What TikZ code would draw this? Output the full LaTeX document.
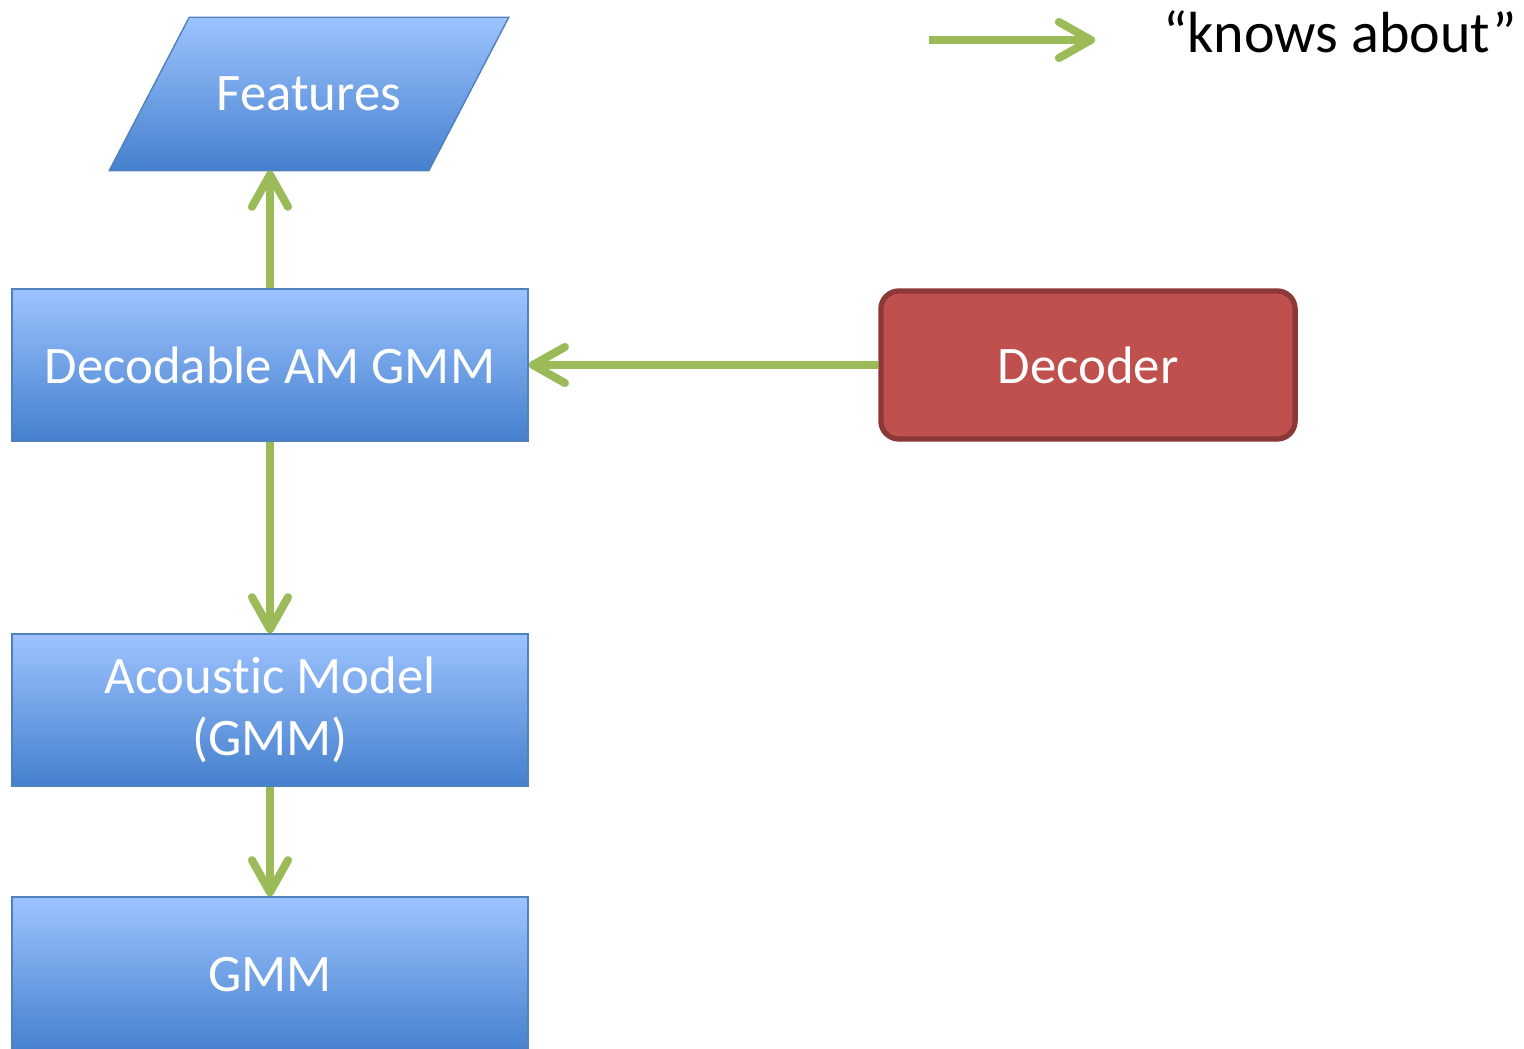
\documentclass[tikz,border=0pt]{standalone}
\usepackage{fontspec}
\setmainfont{Carlito}[Ligatures=NoCommon]
\usetikzlibrary{arrows.meta,positioning,backgrounds}
\definecolor{boxtop}{HTML}{9DC3FF}
\definecolor{boxbottom}{HTML}{4580CD}
\definecolor{boxline}{HTML}{4F81BD}
\definecolor{decfill}{HTML}{C0504D}
\definecolor{decline}{HTML}{8C3836}
\definecolor{knows}{HTML}{9BBB59}
\tikzset{
    blockfill/.style={draw=boxline,thin,top color=boxtop,bottom color=boxbottom},
    block/.style={rectangle,blockfill,
        text=white,minimum width=5.16cm,minimum height=1.52cm,align=center,
        font=\fontsize{15pt}{17.6pt}\selectfont},
    data/.style={rectangle,text=white,minimum width=3.18cm,minimum height=1.52cm,
        font=\fontsize{15pt}{17.6pt}\selectfont},
    decoder/.style={rectangle,rounded corners=0.18cm,draw=decline,line width=1.5pt,fill=decfill,
        text=white,minimum width=4.14cm,minimum height=1.48cm,
        font=\fontsize{15pt}{17.6pt}\selectfont},
    knows/.style={-{Straight Barb[length=0.32cm,width=0.36cm,round]},draw=knows,line width=2.3pt}
}

\begin{document}
\begin{tikzpicture}[x=0.01cm,y=-0.01cm]
    \useasboundingbox (0,0) rectangle (1524,1049);

    \node[data]    (features) at (309,94)  {Features};
    \node[block]   (dam gmm)  at (270,365) {Decodable AM GMM};
    \node[block]   (am)       at (270,710) {Acoustic Model\\(GMM)};
    \node[block,minimum height=1.56cm] (gmm) at (270,975) {GMM};
    \node[decoder] (decoder)  at (1088,365) {Decoder};

    \begin{scope}[on background layer]
        \path[blockfill] ([xshift=-0.4cm]features.south west) -- ([xshift=0.4cm]features.north west)
            -- ([xshift=0.4cm]features.north east) -- ([xshift=-0.4cm]features.south east) -- cycle;
    \end{scope}

    \coordinate (key start) at (929,40);
    \coordinate (key end)   at (1095,40);
    \node (key label) at (1340,32) [font=\fontsize{16.5pt}{20pt}\selectfont] {“knows about”};

    \draw[knows] (dam gmm.north) -- (dam gmm.north |- features.south);
    \draw[knows] (decoder.west) -- (dam gmm.east);
    \draw[knows] (dam gmm.south) -- (am.north);
    \draw[knows] (am.south) -- (gmm.north);
    \draw[knows] (key start) -- (key end);

\end{tikzpicture}
\end{document}
